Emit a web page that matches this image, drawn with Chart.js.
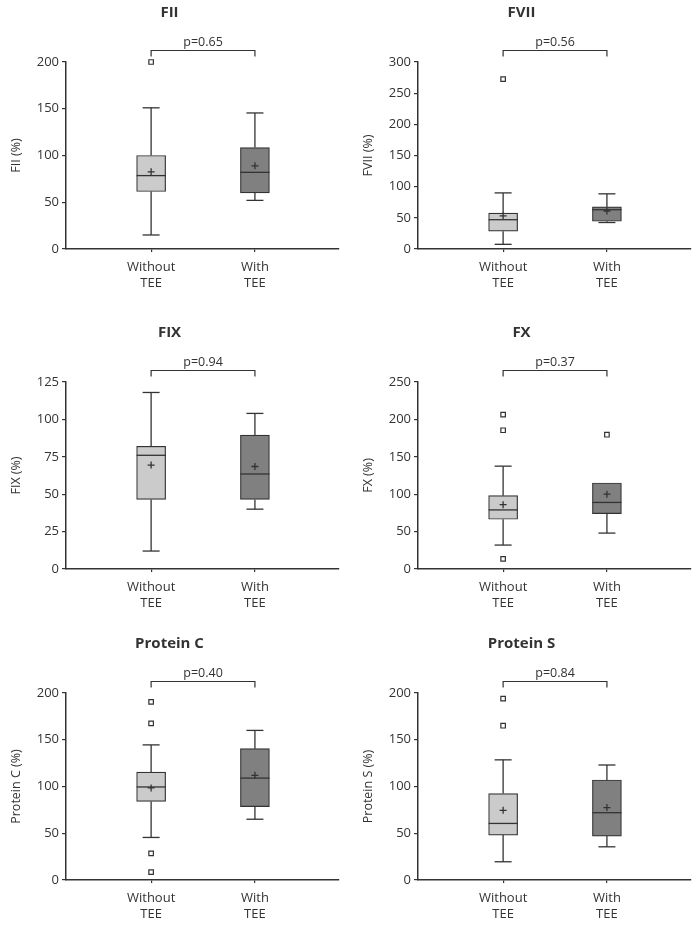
<!DOCTYPE html>
<html>
<head>
<meta charset="utf-8">
<script src="https://cdn.jsdelivr.net/npm/chart.js@4.4.1/dist/chart.umd.min.js"></script>
<style>
  body { margin: 0; background: #fff; width: 697px; height: 925px; position: relative; overflow: hidden; }
  canvas { position: absolute; }
</style>
</head>
<body>
<canvas id="c0" width="348" height="294" style="left:0;top:0"></canvas>
<canvas id="c1" width="345" height="294" style="left:352px;top:0"></canvas>
<canvas id="c2" width="348" height="294" style="left:0;top:320px"></canvas>
<canvas id="c3" width="345" height="294" style="left:352px;top:320px"></canvas>
<canvas id="c4" width="348" height="294" style="left:0;top:631px"></canvas>
<canvas id="c5" width="345" height="294" style="left:352px;top:631px"></canvas>
<script>
// groups on the x axis and the six panels
const groups = [['Without', 'TEE'], ['With', 'TEE']];
const titles = ['FII', 'FVII', 'FIX', 'FX', 'Protein C', 'Protein S'];
const yTitles = ['FII (%)', 'FVII (%)', 'FIX (%)', 'FX (%)', 'Protein C (%)', 'Protein S (%)'];
const pLabels = ['p=0.65', 'p=0.56', 'p=0.94', 'p=0.37', 'p=0.40', 'p=0.84'];
const yMax = [200, 300, 125, 250, 200, 200];
const yStep = [50, 50, 25, 50, 50, 50];

// box plot statistics, [without, with] per panel
const whiskerLow  = [[15, 52], [7.5, 42.5], [12, 40], [32, 48], [45.5, 65], [19.5, 35.5]];
const q1          = [[61.5, 60], [28.5, 44.5], [46.5, 46.5], [66.5, 74], [84, 78.5], [48, 47]];
const median      = [[78.5, 82], [47, 63], [76, 63.5], [79, 89], [99.5, 109], [60.5, 72]];
const q3          = [[100, 108.5], [57.5, 67.5], [82, 89.5], [98, 115], [115.5, 140.5], [92.5, 107]];
const whiskerHigh = [[151, 145.5], [90, 88.5], [118, 104], [137.5, 115], [144.5, 160], [128.5, 123]];
const means       = [[82.5, 89], [53, 61], [69.5, 68.5], [86, 100], [98.5, 112], [74.5, 77.5]];
const outliers    = [[[200], []], [[272.5], []], [[], []], [[206.5, 185.5, 13.5], [179.5]], [[190.5, 167.5, 28.5, 8.5], []], [[194, 165], []]];

const FONT = "'Open Sans', sans-serif";
const INK = '#333';
const TEXT = '#333';
const boxColors = ['#cbcbcb', '#808080'];

// whiskers, medians and the p-value bracket, placed with the chart scales
const boxExtras = {
  id: 'boxExtras',
  afterDatasetsDraw(chart, args, opts) {
    const i = opts.panel;
    const { ctx, chartArea } = chart;
    const x = chart.scales.x, y = chart.scales.y;
    const line = (x1, y1, x2, y2) => { ctx.beginPath(); ctx.moveTo(x1, y1); ctx.lineTo(x2, y2); ctx.stroke(); };
    ctx.save();
    ctx.strokeStyle = INK;
    ctx.lineWidth = 1.3;
    for (let g = 0; g < 2; g++) {
      const cx = x.getPixelForValue(g + 1);
      const hi = y.getPixelForValue(whiskerHigh[i][g]);
      const lo = y.getPixelForValue(whiskerLow[i][g]);
      const top = y.getPixelForValue(q3[i][g]);
      const bot = y.getPixelForValue(q1[i][g]);
      if (whiskerHigh[i][g] > q3[i][g]) { line(cx, top, cx, hi); line(cx - 8.5, hi, cx + 8.5, hi); }
      if (whiskerLow[i][g] < q1[i][g]) { line(cx, bot, cx, lo); line(cx - 8.5, lo, cx + 8.5, lo); }
      const my = y.getPixelForValue(median[i][g]);
      line(cx - 14.5, my, cx + 14.5, my);
    }
    // bracket
    const xa = x.getPixelForValue(1), xb = x.getPixelForValue(2);
    const yb = Math.round(chartArea.top - 12) + 0.5;
    ctx.lineWidth = 1.2;
    ctx.beginPath();
    ctx.moveTo(xa, yb + 6); ctx.lineTo(xa, yb); ctx.lineTo(xb, yb); ctx.lineTo(xb, yb + 6);
    ctx.stroke();
    ctx.fillStyle = TEXT;
    ctx.font = '12.5px ' + FONT;
    ctx.textAlign = 'center';
    ctx.textBaseline = 'middle';
    ctx.fillText(pLabels[i], (xa + xb) / 2, chartArea.top - 20);
    ctx.restore();
  }
};

titles.forEach((title, i) => {
  const rightPad = i % 2 === 0 ? 9 : 6;
  const outlierPoints = [];
  outliers[i].forEach((vals, g) => vals.forEach(v => outlierPoints.push({ x: g + 1, y: v })));

  new Chart(document.getElementById('c' + i), {
    type: 'bar',
    data: {
      datasets: [
        {
          type: 'scatter',
          data: means[i].map((v, g) => ({ x: g + 1, y: v })),
          pointStyle: 'cross',
          radius: 3.5,
          borderColor: INK,
          borderWidth: 1.3,
          order: 0
        },
        {
          type: 'scatter',
          data: outlierPoints,
          pointStyle: 'rect',
          radius: 3.2,
          backgroundColor: '#fff',
          borderColor: INK,
          borderWidth: 1.2,
          clip: false,
          order: 0
        },
        {
          type: 'bar',
          data: q1[i].map((v, g) => ({ x: g + 1, y: [v, q3[i][g]] })),
          backgroundColor: boxColors,
          borderColor: INK,
          borderWidth: 1.2,
          borderSkipped: false,
          barThickness: 29,
          order: 1
        }
      ]
    },
    options: {
      responsive: false,
      animation: false,
      layout: { padding: { left: 0, right: rightPad, top: 0, bottom: 0 } },
      plugins: {
        legend: { display: false },
        tooltip: { enabled: false },
        title: {
          display: true,
          text: title,
          color: INK,
          font: { family: FONT, size: 15, weight: 'bold', lineHeight: 1.2 },
          padding: { top: 4, bottom: 40 }
        },
        boxExtras: { panel: i }
      },
      scales: {
        x: {
          type: 'linear',
          min: 0.18,
          max: 2.81,
          offset: false,
          afterBuildTicks: s => { s.ticks = [{ value: 1 }, { value: 2 }]; },
          afterFit: s => { s.height = 45; },
          ticks: {
            callback: v => groups[v - 1],
            color: TEXT,
            font: { family: FONT, size: 13, lineHeight: 1.25 },
            padding: 7,
            maxRotation: 0,
            autoSkip: false
          },
          grid: { display: true, offset: false, drawOnChartArea: false, drawTicks: true, tickLength: 3, color: INK, lineWidth: 1.2 },
          border: { display: true, color: INK, width: 1.5 }
        },
        y: {
          min: 0,
          max: yMax[i],
          afterFit: s => { s.width = 66; },
          ticks: {
            stepSize: yStep[i],
            color: TEXT,
            font: { family: FONT, size: 13 },
            padding: 3
          },
          grid: { display: true, drawOnChartArea: false, drawTicks: true, tickLength: 4, color: INK, lineWidth: 1.2 },
          border: { display: true, color: INK, width: 1.5 },
          title: {
            display: true,
            text: yTitles[i],
            color: TEXT,
            font: { family: FONT, size: 12.5 },
            padding: { top: 9, bottom: 0 }
          }
        }
      }
    },
    plugins: [boxExtras]
  });
});
</script>
</body>
</html>
